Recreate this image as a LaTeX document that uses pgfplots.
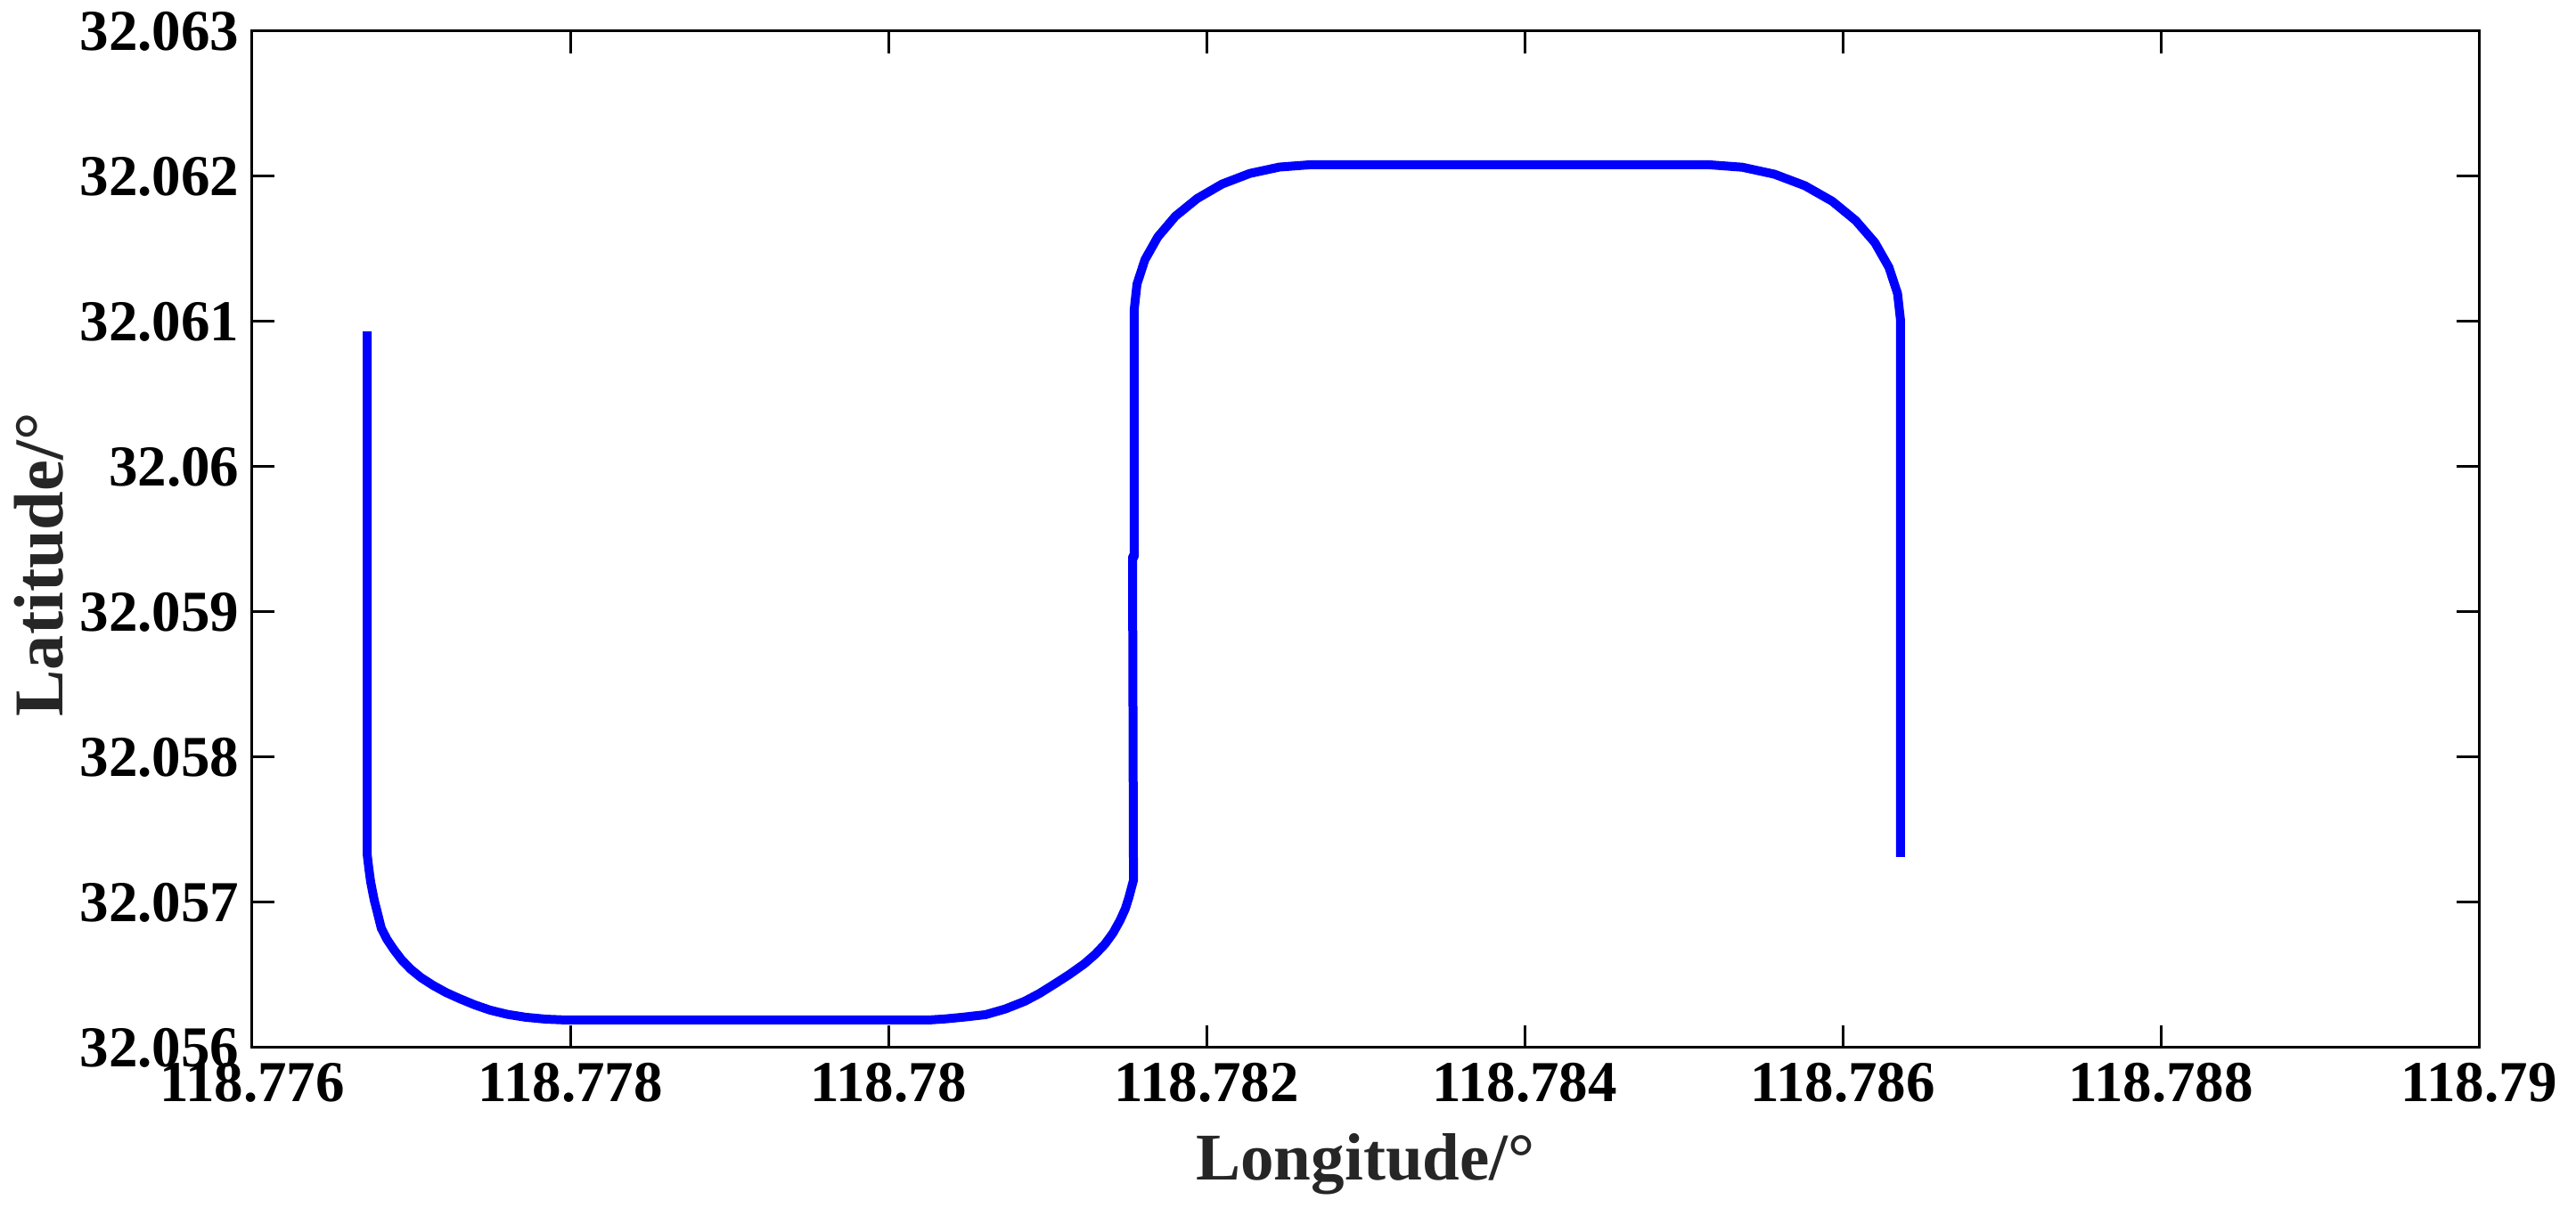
\documentclass[border=0pt]{standalone}
\usepackage{fontspec}
\setmainfont{Liberation Serif}
\usepackage{pgfplots}
\pgfplotsset{compat=1.18}
\usepackage{pgfplotstable}

\definecolor{labelgray}{RGB}{38,38,38}

% track, offsets in 1e-3 deg from lon 118.776 / lat 32.056
% (raw degrees lose precision in the pgf fpu)
\pgfplotstableread{
dlon   dlat
0.723  4.933
0.723  1.331
0.734  1.230
0.745  1.141
0.767  1.018
0.812  0.822
0.848  0.745
0.891  0.675
0.941  0.603
0.997  0.540
1.062  0.482
1.137  0.429
1.218  0.380
1.305  0.337
1.398  0.295
1.496  0.258
1.605  0.229
1.720  0.209
1.846  0.196
1.978  0.190
4.252  0.190
4.360  0.198
4.465  0.209
4.611  0.227
4.735  0.266
4.857  0.319
4.950  0.373
5.042  0.436
5.137  0.503
5.232  0.577
5.300  0.642
5.361  0.712
5.414  0.792
5.457  0.877
5.490  0.957
5.513  1.037
5.541  1.153
5.535  3.380
5.546  3.380
5.546  5.086
5.563  5.258
5.613  5.426
5.694  5.583
5.804  5.725
5.941  5.847
6.098  5.947
6.272  6.020
6.458  6.064
6.650  6.080
9.160  6.080
9.369  6.063
9.571  6.015
9.762  5.936
9.934  5.829
10.082 5.696
10.203 5.543
10.291 5.373
10.345 5.193
10.364 5.006
10.364 1.313
}\track

\begin{document}
\begin{tikzpicture}
\begin{axis}[
    scale only axis,
    width=499.8pt, height=228.2pt,
    xmin=0, xmax=14, ymin=0, ymax=7,
    xtick={0,2,4,6,8,10,12,14},
    xticklabels={118.776,118.778,118.78,118.782,118.784,118.786,118.788,118.79},
    ytick={0,1,2,3,4,5,6,7},
    yticklabels={32.056,32.057,32.058,32.059,32.06,32.061,32.062,32.063},
    tick align=inside, tick pos=both,
    major tick length=5pt,
    axis line style={line width=0.6pt, black},
    every tick/.style={line width=0.6pt, black},
    ticklabel style={font=\bfseries\fontsize{13}{13}\selectfont},
    yticklabel style={xshift=0.6pt},
    xlabel={Longitude/°},
    ylabel={Latitude/°},
    label style={text=labelgray},
    xlabel style={font=\bfseries\fontsize{15}{15}\selectfont,
        at={(axis description cs:0.5,-0.1305)}, anchor=base},
    ylabel style={font=\bfseries\fontsize{15.7}{15.7}\selectfont,
        at={(axis description cs:-0.0852,0.475)}, anchor=base},
]
\addplot[color={rgb,255:red,0;green,0;blue,255}, line width=2pt, line join=round] table[x=dlon, y=dlat]{\track};
\end{axis}
\pgfresetboundingbox
\path ([shift={(-56.6pt,-36pt)}]current axis.south west) rectangle ([shift={(21.8pt,7pt)}]current axis.north east);
\end{tikzpicture}
\end{document}
